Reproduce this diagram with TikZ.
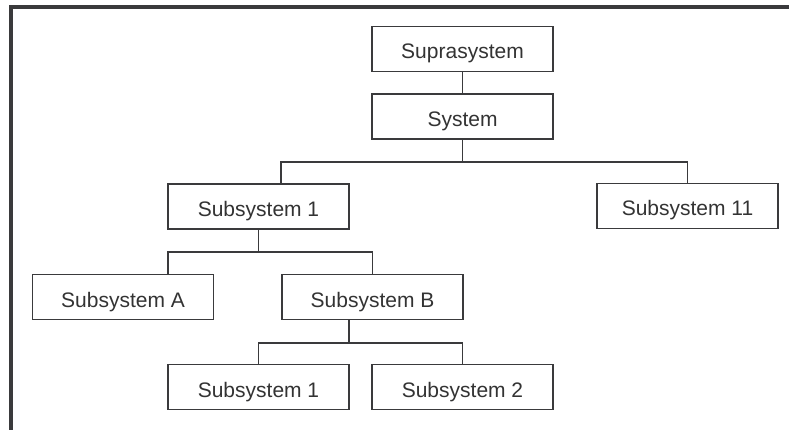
\documentclass[tikz,border=0pt]{standalone}
\usepackage{fontspec}
\setmainfont{Liberation Sans}
\usetikzlibrary{calc}
\definecolor{ink}{HTML}{3A3A3C}
\definecolor{txt}{HTML}{333333}
\tikzset{
  unit/.style={draw=ink, line width=1.6pt, fill=white, minimum width=181pt,
    minimum height=45pt, inner sep=0pt, text=txt, text height=20pt,
    text depth=0pt, font=\fontsize{21}{24}\selectfont},
  link/.style={draw=ink, line width=1.6pt},
  frame/.style={draw=ink, line width=4pt}
}
\begin{document}
\begin{tikzpicture}[x=1pt, y=-1pt]
  \useasboundingbox (0,0) rectangle (789,430);
  % open frame: top and left edges only
  \coordinate (ftr) at (789,6.7);
  \coordinate (ftl) at (11,6.7);
  \coordinate (fbl) at (11,430);
  \draw[frame] (ftr) -- (ftl) -- (fbl);

  % hierarchy boxes
  \node[unit] (supra) at (462.5,49)   {Suprasystem};
  \node[unit] (sys)   at (462.5,116.5){System};
  \node[unit] (s1)    at (258.5,206.5){Subsystem 1};
  \node[unit] (s11)   at (687.5,206)  {Subsystem 11};
  \node[unit] (sA)    at (123,297)    {Subsystem A};
  \node[unit] (sB)    at (372.5,297)  {Subsystem B};
  \node[unit] (b1)    at (258.5,387)  {Subsystem 1};
  \node[unit] (b2)    at (462.5,387)  {Subsystem 2};

  % junction points of the tree lines
  \coordinate (j1) at (462.5,162);
  \coordinate (j2) at (258.5,252);
  \coordinate (j3) at (349,343);

  \draw[link] (supra.south) -- (sys.north);
  \draw[link] (sys.south) -- (j1);
  \draw[link] ([xshift=22.5pt]s1.north) |- (j1) -| (s11.north);
  \draw[link] (s1.south) -- (j2);
  \draw[link] ([xshift=45pt]sA.north) |- (j2) -| (sB.north);
  \draw[link] ([xshift=-23.5pt]sB.south) -- (j3);
  \draw[link] (b1.north) |- (j3) -| (b2.north);
\end{tikzpicture}
\end{document}
